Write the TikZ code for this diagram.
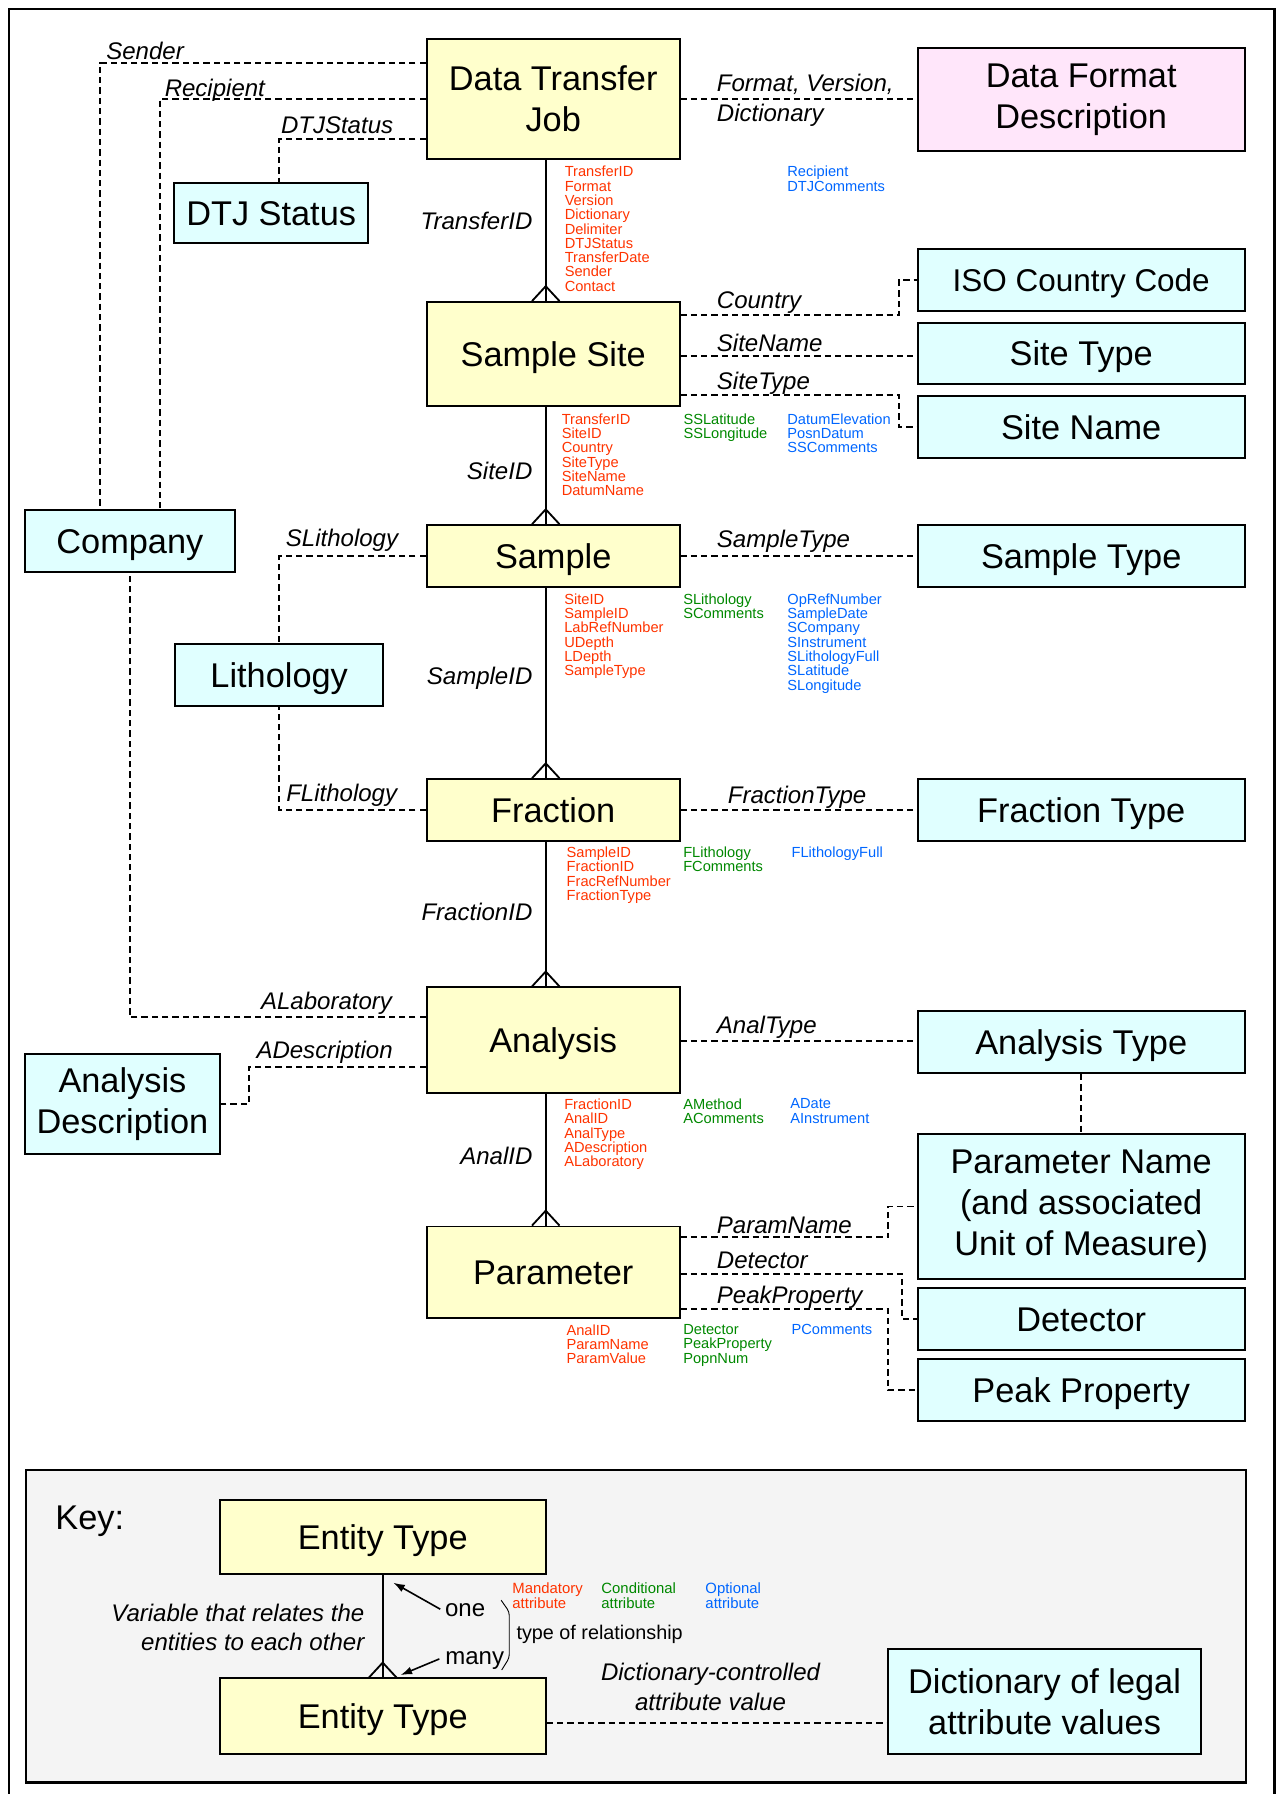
\documentclass[tikz,border=0pt]{standalone}
\usepackage{fontspec}
\setmainfont{Liberation Sans}
\usetikzlibrary{arrows.meta}
\definecolor{entyellow}{HTML}{FFFFCC}
\definecolor{dictcyan}{HTML}{E0FFFF}
\definecolor{fmtpink}{HTML}{FFE6FA}
\definecolor{keygray}{HTML}{F4F4F4}
\definecolor{mandred}{HTML}{FF3300}
\definecolor{condgreen}{HTML}{008800}
\definecolor{optblue}{HTML}{0066FF}
\newcommand\bxfont{\fontsize{30}{36}\selectfont}
\newcommand\lblfont{\fontsize{21}{25.5}\selectfont\itshape}
\newcommand\attfont{\fontsize{12.8}{12.5}\selectfont}
\newcommand\keyattfont{\fontsize{13}{13}\selectfont}
\newcommand\crowat[1]{\draw[relline] (#1) ++(-12,0) -- ++(12,-13) -- ++(12,13);}
\begin{document}
\begin{tikzpicture}[x=1pt,y=-1pt,
  basebox/.style={draw, line width=1.7pt, inner sep=0pt, align=center, font=\bxfont},
  ent/.style={basebox, fill=entyellow},
  dict/.style={basebox, fill=dictcyan},
  fmt/.style={basebox, fill=fmtpink},
  oneline/.style={text height=21.5pt, text depth=0pt},
  wbox/.style={minimum width=221pt},
  rbox/.style={minimum width=286pt},
  dl/.style={draw, line width=1.7pt, dash pattern=on 5.5pt off 3.5pt},
  relline/.style={draw, line width=1.6pt},
  lbl/.style={font=\lblfont, inner sep=0pt, anchor=base west},
  lblr/.style={font=\lblfont, inner sep=0pt, anchor=base east},
  attr/.style={anchor=north west, inner sep=0pt, align=left, font=\attfont},
  keyattr/.style={anchor=north west, inner sep=0pt, align=left, font=\keyattfont},
  arr/.style={draw, line width=1.4pt, -{Latex[length=10pt,width=7pt]}}
]
\useasboundingbox (0,0) rectangle (1117,1568);
% outer frame (bottom edge lies below the page)
\draw[line width=2.2pt] (8,1580) -- (8,8) -- (1114,8) -- (1114,1580);

% ---------- entity boxes ----------
\node[ent, wbox, minimum height=105pt] (dtj) at (483.5,86.5) {Data Transfer\\Job};
\node[fmt, rbox, minimum height=90pt] (dfd) at (945,87) {Data Format\\Description};
\node[dict, oneline, minimum width=170pt, minimum height=52pt] (dtjs) at (237,186) {DTJ Status};
\node[ent, oneline, wbox, minimum height=91pt] (ss) at (483.5,309.5) {Sample Site};
\node[dict, rbox, minimum height=54pt, text height=20pt, text depth=0pt, font=\fontsize{27.5}{33}\selectfont] (iso) at (945,245) {ISO Country Code};
\node[dict, oneline, rbox, minimum height=54pt] (sitetype) at (945,309) {Site Type};
\node[dict, oneline, rbox, minimum height=54pt] (sitename) at (945,373) {Site Name};
\node[ent, oneline, wbox, minimum height=54pt] (sample) at (483.5,486) {Sample};
\node[dict, oneline, rbox, minimum height=54pt] (sampletype) at (945,486) {Sample Type};
\node[dict, oneline, minimum width=183pt, minimum height=54pt] (company) at (113.5,473) {Company};
\node[dict, oneline, minimum width=182pt, minimum height=54pt] (litho) at (244,590) {Lithology};
\node[ent, oneline, wbox, minimum height=54pt] (fraction) at (483.5,708) {Fraction};
\node[dict, oneline, rbox, minimum height=54pt] (fractype) at (945,708) {Fraction Type};
\node[ent, oneline, wbox, minimum height=92pt] (analysis) at (483.5,909) {Analysis};
\node[dict, oneline, rbox, minimum height=54pt] (analtype) at (945,911) {Analysis Type};
\node[dict, minimum width=170pt, minimum height=88pt] (adesc) at (107,965) {Analysis\\Description};
\node[ent, oneline, wbox, minimum height=80pt] (param) at (483.5,1112) {Parameter};
\node[dict, rbox, minimum height=127pt] (pname) at (945,1054.5) {Parameter Name\\(and associated\\Unit of Measure)};
\node[dict, oneline, rbox, minimum height=54pt] (detector) at (945,1153) {Detector};
\node[dict, oneline, rbox, minimum height=54pt] (peak) at (945,1215) {Peak Property};

% ---------- identifying relationships (solid) ----------
\draw[relline] (dtj.south -| 477,0) -- (ss.north -| 477,0);
\crowat{ss.north -| 477,0}
\draw[relline] (ss.south -| 477,0) -- (sample.north -| 477,0);
\crowat{sample.north -| 477,0}
\draw[relline] (sample.south -| 477,0) -- (fraction.north -| 477,0);
\crowat{fraction.north -| 477,0}
\draw[relline] (fraction.south -| 477,0) -- (analysis.north -| 477,0);
\crowat{analysis.north -| 477,0}
\draw[relline] (analysis.south -| 477,0) -- (param.north -| 477,0);
\crowat{param.north -| 477,0}

% ---------- dictionary links (dashed) ----------
\draw[dl] (dtj.west |- 0,54.8) -| (87.8,0 |- company.north);
\draw[dl] (dtj.west |- 0,86.2) -| (139.8,0 |- company.north);
\draw[dl] (dtj.west |- 0,121.8) -| (243.7,0 |- dtjs.north);
\draw[dl] (dtj.east |- 0,86.2) -- (dfd.west |- 0,86.2);
\draw[dl] (ss.east |- 0,275.3) -| (785.7,0 |- iso.west) -- (iso.west);
\draw[dl] (ss.east |- 0,311.5) -- (sitetype.west |- 0,311.5);
\draw[dl] (ss.east |- 0,345.2) -| (785.7,0 |- sitename.west) -- (sitename.west);
\draw[dl] (sample.east) -- (sampletype.west);
\draw[dl] (sample.west) -| (litho.north);
\draw[dl] (fraction.west) -| (litho.south);
\draw[dl] (fraction.east) -- (fractype.west);
\draw[dl] (analysis.west |- 0,889.1) -| (company.south);
\draw[dl] (analysis.west |- 0,932.2) -| (217.6,0 |- adesc.east) -- (adesc.east);
\draw[dl] (analysis.east |- 0,910) -- (analtype.west |- 0,910);
\draw[dl] (analtype.south) -- (pname.north);
\draw[dl] (param.east |- 0,1081.4) -| (776.3,0 |- pname.west) -- (pname.west);
\draw[dl] (param.east |- 0,1113.5) -| (788.7,0 |- detector.west) -- (detector.west);
\draw[dl] (param.east |- 0,1144.3) -| (776.3,0 |- peak.west) -- (peak.west);

% ---------- link labels ----------
\node[lbl] (lsender) at (92.7,51.9) {Sender};
\node[lbl] (lrecip) at (143.8,84.5) {Recipient};
\node[lbl] (ldtjs) at (245.4,116.5) {DTJStatus};
\node[lbl] (lfmt1) at (626.4,80.1) {Format, Version,};
\node[lbl] (lfmt2) at (626.4,106.3) {Dictionary};
\node[lblr] (ltid) at (465.5,200.4) {TransferID};
\node[lbl] (lcountry) at (626.4,269.5) {Country};
\node[lbl] (lsname) at (626.4,307.3) {SiteName};
\node[lbl] (lstype) at (626.4,340.3) {SiteType};
\node[lblr] (lsid) at (465.5,418.9) {SiteID};
\node[lbl] (lslith) at (249.7,477.8) {SLithology};
\node[lbl] (lsmtype) at (626.4,478.4) {SampleType};
\node[lblr] (lsmid) at (465.5,598.7) {SampleID};
\node[lbl] (lflith) at (250,700.6) {FLithology};
\node[lbl] (lfrtype) at (636,702) {FractionType};
\node[lblr] (lfrid) at (465.5,804.1) {FractionID};
\node[lbl] (llab) at (228,882.7) {ALaboratory};
\node[lbl] (ladesc) at (224,925) {ADescription};
\node[lbl] (latype) at (626.4,903.7) {AnalType};
\node[lblr] (laid) at (465.5,1018.2) {AnalID};
\node[lbl] (lpname) at (626.4,1077.9) {ParamName};
\node[lbl] (ldet) at (626.4,1108.5) {Detector};
\node[lbl] (lpeak) at (626.4,1139.7) {PeakProperty};

% ---------- attribute lists ----------
\node[attr, text=mandred] (a1m) at (493.4,145.1) {TransferID\\Format\\Version\\Dictionary\\Delimiter\\DTJStatus\\TransferDate\\Sender\\Contact};
\node[attr, text=optblue] (a1o) at (688,145.1) {Recipient\\DTJComments};
\node[attr, text=mandred] (a2m) at (490.8,361.3) {TransferID\\SiteID\\Country\\SiteType\\SiteName\\DatumName};
\node[attr, text=condgreen] (a2c) at (597.2,361.3) {SSLatitude\\SSLongitude};
\node[attr, text=optblue] (a2o) at (688,361.3) {DatumElevation\\PosnDatum\\SSComments};
\node[attr, text=mandred] (a3m) at (493,518.7) {SiteID\\SampleID\\LabRefNumber\\UDepth\\LDepth\\SampleType};
\node[attr, text=condgreen] (a3c) at (597,518.7) {SLithology\\SComments};
\node[attr, text=optblue] (a3o) at (688,518.7) {OpRefNumber\\SampleDate\\SCompany\\SInstrument\\SLithologyFull\\SLatitude\\SLongitude};
\node[attr, text=mandred] (a4m) at (495.1,740) {SampleID\\FractionID\\FracRefNumber\\FractionType};
\node[attr, text=condgreen] (a4c) at (597,740) {FLithology\\FComments};
\node[attr, text=optblue] (a4o) at (691.7,740) {FLithologyFull};
\node[attr, text=mandred] (a5m) at (493,960.2) {FractionID\\AnalID\\AnalType\\ADescription\\ALaboratory};
\node[attr, text=condgreen] (a5c) at (597,960.2) {AMethod\\AComments};
\node[attr, text=optblue] (a5o) at (690.6,960.2) {ADate\\AInstrument};
\node[attr, text=mandred] (a6m) at (495,1157.5) {AnalID\\ParamName\\ParamValue};
\node[attr, text=condgreen] (a6c) at (597,1157.5) {Detector\\PeakProperty\\PopnNum};
\node[attr, text=optblue] (a6o) at (691.7,1157.5) {PComments};

% ---------- key ----------
\draw[line width=1.9pt, fill=keygray] (22.5,1285) rectangle (1089,1558);
\node[font=\bxfont, inner sep=0pt, anchor=base west] (keylbl) at (48.2,1337.2) {Key:};
\node[ent, oneline, minimum width=285pt, minimum height=65pt] (ket1) at (334.5,1343.5) {Entity Type};
\node[ent, oneline, minimum width=285pt, minimum height=66pt] (ket2) at (334.5,1500) {Entity Type};
\node[dict, minimum width=274pt, minimum height=92pt] (kdict) at (913,1487) {Dictionary of legal\\attribute values};
\draw[relline] (ket1.south) -- (ket2.north);
\crowat{ket2.north}
\draw[dl] (ket2.east |- 0,1506.2) -- (kdict.west |- 0,1506.2);
\node[lblr] (kvar1) at (318.6,1417.3) {Variable that relates the};
\node[lblr] (kvar2) at (318.6,1442.7) {entities to each other};
\node[font=\fontsize{21}{25}\selectfont, inner sep=0pt, anchor=base west] (kone) at (388.8,1413) {one};
\node[font=\fontsize{21}{25}\selectfont, inner sep=0pt, anchor=base west] (kmany) at (389,1454.4) {many};
\coordinate (onetip) at (343.8,1383.3);
\coordinate (manytip) at (350.2,1464);
\draw[arr] ([xshift=-4pt,yshift=1pt]kone.west) -- (onetip);
\draw[arr] ([xshift=-5pt,yshift=1pt]kmany.west) -- (manytip);
\draw[line width=0.8pt, rounded corners=3pt] (438,1398.6) -- (445.1,1408.8) -- (445.1,1449) -- (438.5,1459.6);
\node[font=\fontsize{17.3}{20}\selectfont, inner sep=0pt, anchor=base west] (krel) at (451.3,1433.3) {type of relationship};
\node[keyattr, text=mandred] (kmand) at (447.7,1383.2) {Mandatory\\attribute};
\node[keyattr, text=condgreen] (kcond) at (525.5,1383.2) {Conditional\\attribute};
\node[keyattr, text=optblue] (kopt) at (616.4,1383.2) {Optional\\attribute};
\node[font=\lblfont, inner sep=0pt, anchor=base] (kdc1) at (621,1468.9) {Dictionary-controlled};
\node[font=\lblfont, inner sep=0pt, anchor=base] (kdc2) at (621,1495.1) {attribute value};
\end{tikzpicture}
\end{document}
